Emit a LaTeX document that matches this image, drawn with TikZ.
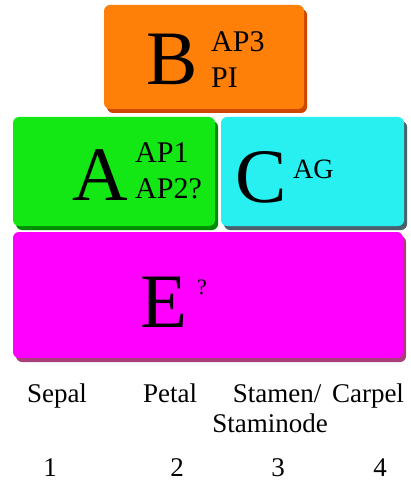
\documentclass[tikz,border=0pt]{standalone}
\usepackage{fontspec}
\setmainfont{Liberation Serif}
\usetikzlibrary{shadows}

\definecolor{orangeB}{RGB}{255,128,8}
\definecolor{greenA}{RGB}{20,232,20}
\definecolor{cyanC}{RGB}{40,240,240}
\definecolor{magentaE}{RGB}{255,0,255}

\tikzset{
  box/.style 2 args={rounded corners=6pt, inner sep=0pt, fill=#1,
    drop shadow={shadow xshift=3pt, shadow yshift=-4pt, fill=#2, opacity=1}},
  big/.style={font=\fontsize{77}{77}\selectfont, anchor=base west, inner sep=0pt},
  gene/.style={font=\fontsize{30}{30}\selectfont, anchor=base west, inner sep=0pt},
  organ/.style={font=\fontsize{27}{27}\selectfont, anchor=base, inner sep=0pt},
}

\begin{document}
\begin{tikzpicture}[x=1pt,y=-1pt]
    \useasboundingbox (0,0) rectangle (410,481);
    \node[box={orangeB}{orange!70!red!80!black}, minimum width=200pt, minimum height=104pt] (boxB) at (204,57) {};
    \node[box={greenA}{green!55!black}, minimum width=202pt, minimum height=109pt] (boxA) at (114,171.5) {};
    \node[box={cyanC}{cyan!35!black}, minimum width=183pt, minimum height=109pt] (boxC) at (312.5,171.5) {};
    \node[box={magentaE}{magenta!65!black}, minimum width=390pt, minimum height=126pt] (boxE) at (208,295) {};

    \node[big] (B) at (146,85) {B};
    \node[gene] (AP3) at (211,52) {AP3};
    \node[gene] (PI) at (211,88) {PI};
    \node[big] (A) at (72,200) {A};
    \node[gene] (AP1) at (135,163) {AP1};
    \node[gene] (AP2) at (135,198) {AP2?};
    \node[big] (C) at (235,202) {C};
    \node[gene, font=\fontsize{28}{28}\selectfont] (AG) at (293,178) {AG};
    \node[big] (E) at (140,327) {E};
    \node[gene, font=\fontsize{22}{22}\selectfont] (Eq) at (197,294) {?};

    \node[organ] (sepal) at (57,402) {Sepal};
    \node[organ] (petal) at (170,402) {Petal};
    \node[organ] (stamen) at (277,402) {Stamen/};
    \node[organ] (staminode) at (270,432) {Staminode};
    \node[organ] (carpel) at (368,402) {Carpel};
    \node[organ] (w1) at (50,476) {1};
    \node[organ] (w2) at (177,476) {2};
    \node[organ] (w3) at (278,476) {3};
    \node[organ] (w4) at (380,476) {4};
\end{tikzpicture}
\end{document}
